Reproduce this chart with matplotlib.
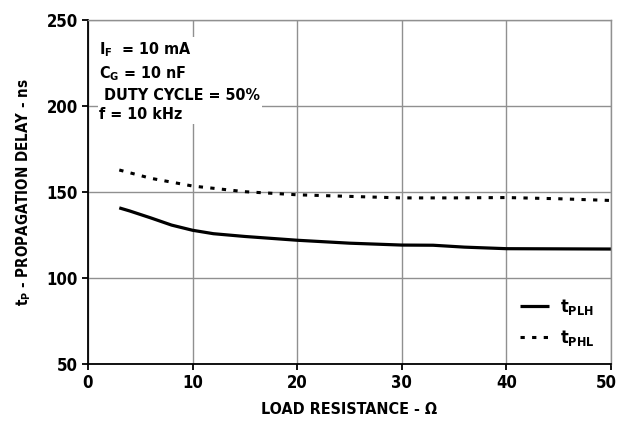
import matplotlib
matplotlib.use("Agg")
import matplotlib.pyplot as plt
import matplotlib.transforms as mtransforms

plt.rcParams['font.family'] = ['DejaVu Sans']
plt.rcParams['font.weight'] = 'bold'
plt.rcParams['font.stretch'] = 'condensed'
plt.rcParams['axes.labelweight'] = 'bold'
plt.rcParams['mathtext.fontset'] = 'custom'
plt.rcParams['mathtext.rm'] = 'DejaVu Sans:weight=bold:stretch=condensed'
plt.rcParams['mathtext.bf'] = 'DejaVu Sans:weight=bold:stretch=condensed'
plt.rcParams['mathtext.it'] = 'DejaVu Sans:weight=bold:stretch=condensed'

# load resistance (ohm)
r_plh = [3, 4, 6, 8, 10, 12, 15, 20, 25, 30, 33, 36, 40, 45, 50]
t_plh = [140.8, 139.0, 135.0, 130.8, 127.8, 125.8, 124.2, 122.0, 120.3, 119.2, 119.1, 118.0, 117.1, 117.0, 116.9]

r_phl = [3, 6, 10, 15, 20, 26, 30, 35, 40, 45, 50]
t_phl = [162.8, 158.0, 153.5, 150.2, 148.4, 147.3, 146.6, 146.6, 146.8, 146.1, 145.1]

xticks = [0, 10, 20, 30, 40, 50]
yticks = [50, 100, 150, 200, 250]

fig = plt.figure(figsize=(6.19, 4.23), dpi=100)
ax = fig.add_axes([0.142, 0.139, 0.845, 0.814])

ax.plot(r_plh, t_plh, color='black', lw=2.3, solid_capstyle='butt', label=r't$_\mathrm{PLH}$')
ax.plot(r_phl, t_phl, color='black', lw=2.2, dashes=(1.4, 2.4), label=r't$_\mathrm{PHL}$')

ax.set_xlim(0, 50)
ax.set_ylim(50, 250)
ax.set_xticks(xticks)
ax.set_yticks(yticks)
ax.grid(True, color='#909090', lw=1.0)
ax.set_axisbelow(True)

for s in ['top', 'right']:
    ax.spines[s].set_color('#909090')
    ax.spines[s].set_linewidth(1.0)
for s in ['left', 'bottom']:
    ax.spines[s].set_color('black')
    ax.spines[s].set_linewidth(1.3)

ax.tick_params(direction='out', length=4, width=1.3, labelsize=12, pad=3)
ax.tick_params(top=False, right=False)

# the last x label sits right at the figure edge; nudge it inside
last = ax.get_xticklabels()[-1]
last.set_transform(last.get_transform() +
                   mtransforms.ScaledTranslation(-3 / 72, 0, fig.dpi_scale_trans))

ax.set_xlabel('LOAD RESISTANCE - \u03a9', fontsize=11.5, labelpad=7)
ax.set_ylabel(r't$_\mathrm{P}$ - PROPAGATION DELAY - ns', fontsize=10.8, labelpad=10)

ax.text(0.022, 0.94,
        'I$_\\mathrm{F}$  = 10 mA\n'
        'C$_\\mathrm{G}$ = 10 nF\n'
        ' DUTY CYCLE = 50%\n'
        'f = 10 kHz',
        transform=ax.transAxes, fontsize=11.5, va='top', ha='left',
        linespacing=1.38,
        bbox=dict(facecolor='white', edgecolor='none', pad=1))

leg = ax.legend(loc='lower right', bbox_to_anchor=(1.0, 0.0), frameon=False,
                fontsize=13, handlelength=1.6, handletextpad=0.6, labelspacing=0.6)

fig.savefig('out.png', dpi=100)
